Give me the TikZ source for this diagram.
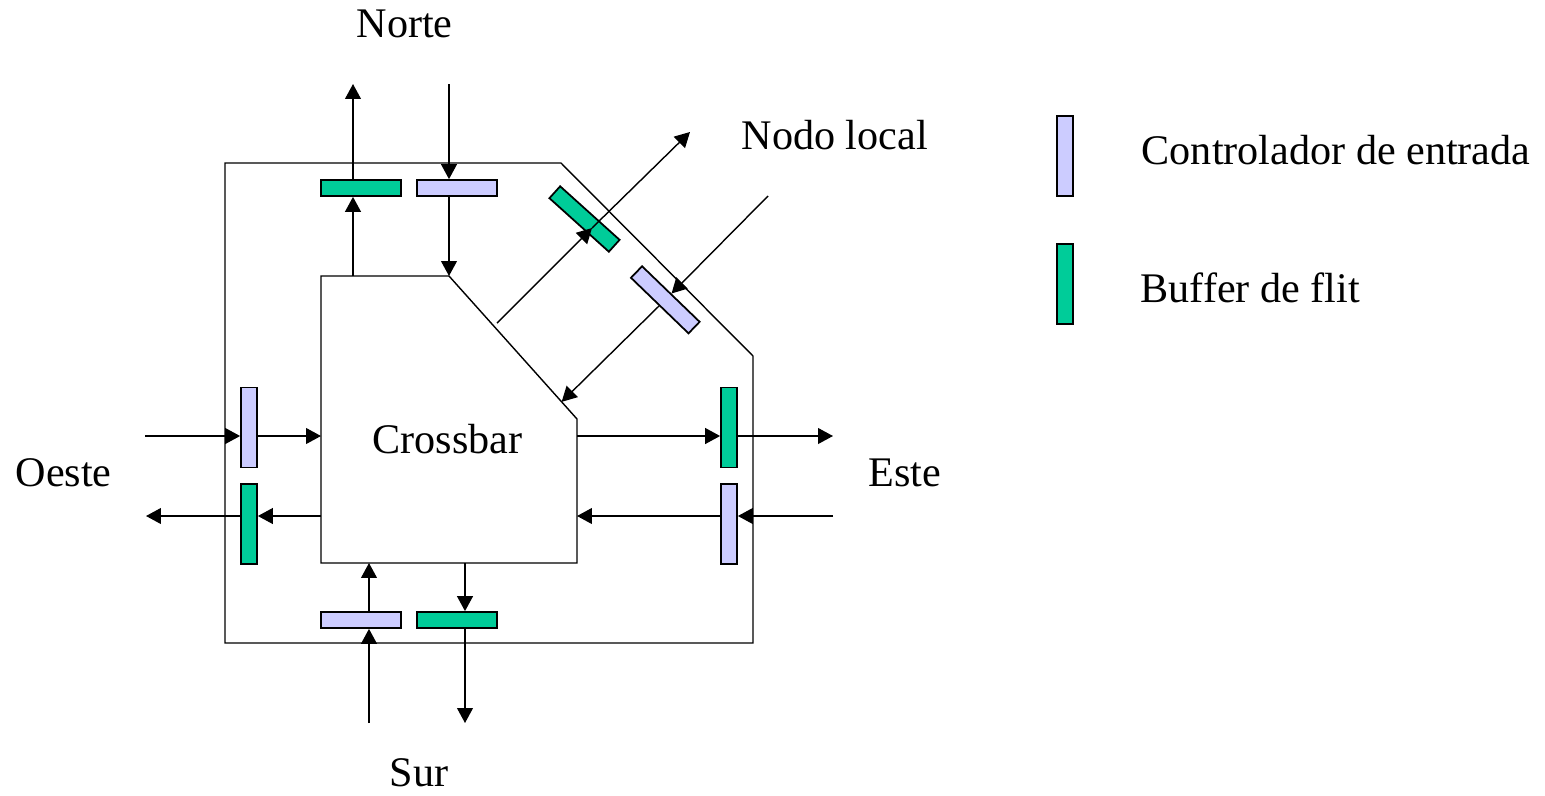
\documentclass[tikz,border=0pt]{standalone}
\usepackage{fontspec}
\setmainfont{Liberation Serif}
\usepackage{tikz}
\definecolor{ctrlblue}{RGB}{204,204,255}
\definecolor{flitgreen}{RGB}{0,204,153}
\usetikzlibrary{arrows.meta,calc}

\tikzset{
    every path/.style={line width=0.8pt},
    >={Triangle[length=8.5pt,width=9pt]},
    buf/.style={draw, line width=1pt, inner sep=0pt},
    ctrl/.style={buf, fill=ctrlblue},
    flit/.style={buf, fill=flitgreen},
    horiz/.style={minimum width=1.6cm, minimum height=0.32cm},
    vert/.style={minimum width=0.32cm, minimum height=1.6cm},
    lbl/.style={inner sep=0pt, anchor=base west, font=\fontsize{24}{28}\selectfont}
}

\begin{document}
\begin{tikzpicture}[x=0.02cm, y=-0.02cm]
        \useasboundingbox (0,0) rectangle (1545,795);

        % outer frame of the router
        \coordinate (oa) at (225,163);
        \coordinate (ob) at (561,163);
        \coordinate (oc) at (753,356);
        \coordinate (od) at (753,643);
        \coordinate (oe) at (225,643);
        \draw (oa) -- (ob) -- (oc) -- (od) -- (oe) -- cycle;

        % crossbar
        \coordinate (xa) at (321,276);
        \coordinate (xb) at (449,276);
        \coordinate (xc) at (577,419);
        \coordinate (xd) at (577,563);
        \coordinate (xe) at (321,563);
        \draw (xa) -- (xb) -- (xc) -- (xd) -- (xe) -- cycle;
        \node[lbl] (xbar) at (372,453) {Crossbar};

        % buffers
        \node[flit, horiz] (nflit) at (361,188) {};
        \node[ctrl, horiz] (nctrl) at (457,188) {};
        \node[ctrl, horiz] (sctrl) at (361,620) {};
        \node[flit, horiz] (sflit) at (457,620) {};
        \node[ctrl, vert] (wctrl) at (249,427.5) {};
        \node[flit, vert] (wflit) at (249,524) {};
        \node[flit, vert] (eflit) at (729,427.5) {};
        \node[ctrl, vert] (ectrl) at (729,524) {};
        \node[flit, horiz, rotate=-42] (lflit) at (584.5,219) {};
        \node[ctrl, horiz, rotate=-44] (lctrl) at (665.3,299.8) {};

        % free ends
        \coordinate (nout) at (353,84);
        \coordinate (nin) at (449,84);
        \coordinate (sin) at (369,723);
        \coordinate (sout) at (465,723);
        \coordinate (win) at (145,436);
        \coordinate (wout) at (146,516);
        \coordinate (eout) at (833,436);
        \coordinate (ein) at (833,516);
        \coordinate (lstart) at (497,323);
        \coordinate (ltip) at (592,228);
        \coordinate (lout) at (690,132);
        \coordinate (lin) at (768,196);
        \coordinate (lend) at ($(xb)!0.88!(xc)$);

        % norte
        \draw[->] (xa -| nout) -- (nflit.south -| nout);
        \draw[->] (nflit.north -| nout) -- (nout);
        \draw[->] (nin) -- (nctrl.north -| nin);
        \draw[->] (nctrl.south -| nin) -- (xb);
        % sur
        \draw[->] (sin) -- (sctrl.south -| sin);
        \draw[->] (sctrl.north -| sin) -- (xe -| sin);
        \draw[->] (xe -| sout) -- (sflit.north -| sout);
        \draw[->] (sflit.south -| sout) -- (sout);
        % oeste
        \draw[->] (win) -- (wctrl.west |- win);
        \draw[->] (wctrl.east |- win) -- (xa |- win);
        \draw[->] (xa |- wout) -- (wflit.east |- wout);
        \draw[->] (wflit.west |- wout) -- (wout);
        % este
        \draw[->] (xd |- eout) -- (eflit.west |- eout);
        \draw[->] (eflit.east |- eout) -- (eout);
        \draw[->] (ein) -- (ectrl.east |- ein);
        \draw[->] (ectrl.west |- ein) -- (xd |- ein);
        % nodo local
        \draw[->] (lstart) -- (ltip);
        \draw[->] (ltip) -- (lout);
        \draw[->] (lin) -- (lctrl);
        \draw[->] (lctrl) -- (lend);

        % labels
        \node[lbl] (norte) at (356,37) {Norte};
        \node[lbl] (sur) at (389,786) {Sur};
        \node[lbl] (oeste) at (15,486) {Oeste};
        \node[lbl] (este) at (868,486) {Este};
        \node[lbl] (local) at (741,149) {Nodo local};

        % legend
        \node[ctrl, vert] (keyctrl) at (1065,156) {};
        \node[flit, vert] (keyflit) at (1065,284) {};
        \node[lbl] (keyctrltxt) at (1141,164) {Controlador de entrada};
        \node[lbl] (keyflittxt) at (1140,302) {Buffer de flit};
    \end{tikzpicture}
\end{document}
